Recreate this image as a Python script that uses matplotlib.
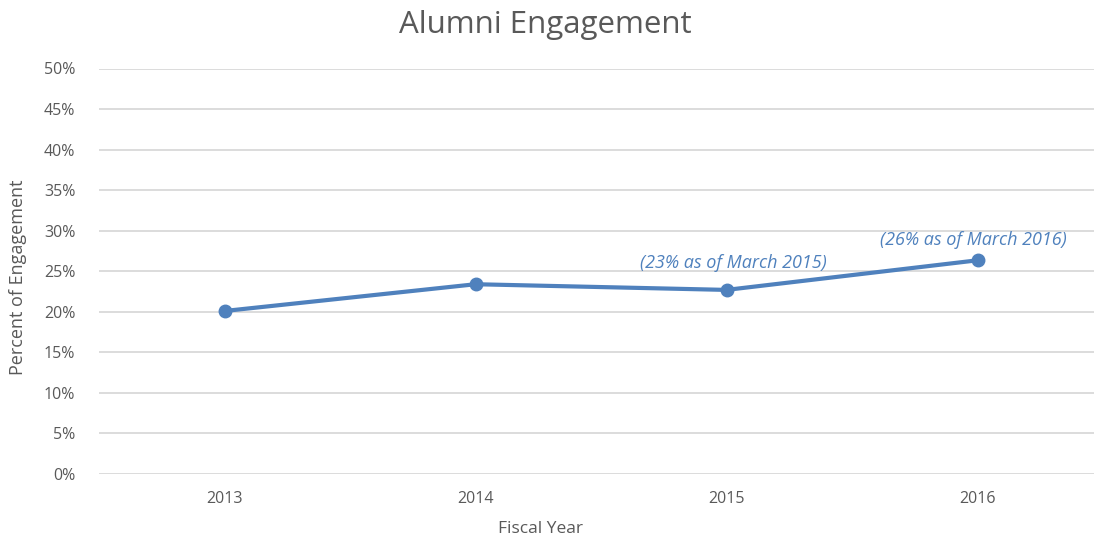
import matplotlib
matplotlib.use("Agg")
import matplotlib.pyplot as plt

years = ["2013", "2014", "2015", "2016"]
engagement = [20.1, 23.4, 22.7, 26.35]
notes = {2: "(23% as of March 2015)", 3: "(26% as of March 2016)"}
yticks = [0, 5, 10, 15, 20, 25, 30, 35, 40, 45, 50]

plt.rcParams['font.family'] = ['Open Sans', 'DejaVu Sans']

W, H = 1094, 540
fig = plt.figure(figsize=(W / 100, H / 100), dpi=100)
left, right, top, bottom = 99, 1103, 68.5, 474
ax = fig.add_axes([left / W, 1 - bottom / H, (right - left) / W, (bottom - top) / H])

blue = '#4F81BD'
grey = '#595959'
x = list(range(len(years)))
ax.plot(x, engagement, color=blue, linewidth=3, marker='o', markersize=9, zorder=3,
        solid_capstyle='round')
note_offsets = {2: (5, 19.5), 3: (-3, 14.5)}  # points
for i, txt in notes.items():
    ax.annotate(txt, (x[i], engagement[i]), xytext=note_offsets[i], textcoords='offset points',
                ha='center', va='center', color=blue, fontsize=13, style='italic')

ax.set_xlim(-0.5, 3.5)
ax.set_ylim(0, 50)
ax.set_yticks(yticks)
ax.set_yticklabels([f"{v}%" for v in yticks])
ax.set_xticks(x)
ax.set_xticklabels(years)
ax.grid(axis='y', color='#D9D9D9', linewidth=1.3)
ax.set_axisbelow(True)
for s in ax.spines.values():
    s.set_visible(False)
ax.tick_params(axis='both', length=0, labelsize=11.5, colors=grey)
ax.tick_params(axis='y', pad=17)
ax.tick_params(axis='x', pad=12)

fig.text(545 / W, 1 - 25 / H, "Alumni Engagement", ha='center', va='center', fontsize=22.5, color=grey)
fig.text(18 / W, 1 - 277 / H, "Percent of Engagement", ha='center', va='center', rotation=90,
         fontsize=13, color=grey)
fig.text(540 / W, 1 - 529 / H, "Fiscal Year", ha='center', va='center', fontsize=12.5, color=grey)

fig.savefig("out.png", dpi=100)
